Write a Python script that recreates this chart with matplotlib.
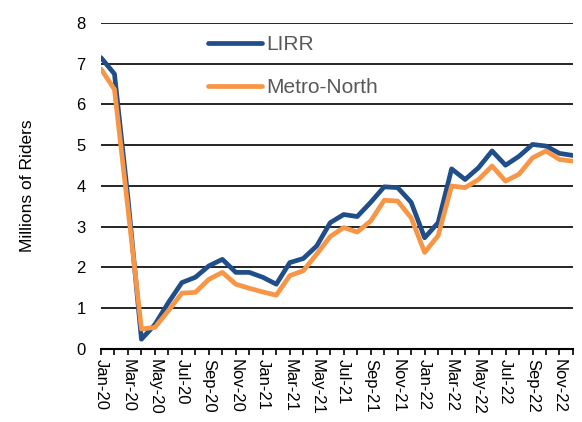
import matplotlib
matplotlib.use("Agg")
import matplotlib.pyplot as plt

# monthly ridership, Jan-20 .. Dec-22 (millions)
months = ["Jan-20", "Feb-20", "Mar-20", "Apr-20", "May-20", "Jun-20", "Jul-20", "Aug-20",
          "Sep-20", "Oct-20", "Nov-20", "Dec-20", "Jan-21", "Feb-21", "Mar-21", "Apr-21",
          "May-21", "Jun-21", "Jul-21", "Aug-21", "Sep-21", "Oct-21", "Nov-21", "Dec-21",
          "Jan-22", "Feb-22", "Mar-22", "Apr-22", "May-22", "Jun-22", "Jul-22", "Aug-22",
          "Sep-22", "Oct-22", "Nov-22", "Dec-22"]
lirr = [7.15, 6.75, 3.7, 0.24, 0.6, 1.14, 1.63, 1.76, 2.04, 2.2, 1.88, 1.88,
        1.76, 1.59, 2.12, 2.22, 2.53, 3.1, 3.3, 3.25, 3.6, 3.98, 3.96, 3.6,
        2.73, 3.1, 4.42, 4.16, 4.45, 4.86, 4.51, 4.73, 5.02, 4.98, 4.8, 4.75]
metro_north = [6.87, 6.37, 3.45, 0.49, 0.53, 0.94, 1.37, 1.39, 1.71, 1.88, 1.59, 1.49,
               1.40, 1.32, 1.8, 1.92, 2.33, 2.76, 2.98, 2.87, 3.14, 3.65, 3.63, 3.22,
               2.37, 2.78, 4.0, 3.96, 4.16, 4.49, 4.12, 4.29, 4.69, 4.86, 4.65, 4.61]

plt.rcParams['font.family'] = ['Liberation Sans', 'DejaVu Sans']

fig = plt.figure(figsize=(5.82, 4.22), dpi=100)
ax = fig.add_axes([0.1735, 0.173, 0.811, 0.7725])

x = list(range(len(months)))
ax.plot(x, lirr, color='#1F4E89', lw=3.4, solid_joinstyle='round',
        solid_capstyle='round', label='LIRR', zorder=3)
ax.plot(x, metro_north, color='#F79646', lw=3.4, solid_joinstyle='round',
        solid_capstyle='round', label='Metro-North', zorder=3)

ax.set_xlim(0, len(months) - 1)
ax.set_ylim(0, 8)
ax.set_yticks(range(0, 9))
ax.yaxis.grid(True, color='black', lw=1.2)
ax.set_axisbelow(True)
ax.tick_params(axis='y', length=0, labelsize=12, pad=11)

ax.set_xticks(x)
ax.set_xticklabels([m if i % 2 == 0 else '' for i, m in enumerate(months)],
                   rotation=-90, fontsize=12)
ax.tick_params(axis='x', direction='out', length=4, width=1.2, pad=3)

for s in ['left', 'right', 'top']:
    ax.spines[s].set_visible(False)
ax.spines['bottom'].set_linewidth(1.5)

ax.set_ylabel('Millions of Riders', fontsize=12.5, labelpad=30)

leg = ax.legend(loc='upper left', bbox_to_anchor=(0.187, 1.02), frameon=False,
                fontsize=15, handlelength=2.6, handletextpad=0.2, labelspacing=1.15)
for t in leg.get_texts():
    t.set_color('#595959')

fig.savefig('out.png', dpi=100)
